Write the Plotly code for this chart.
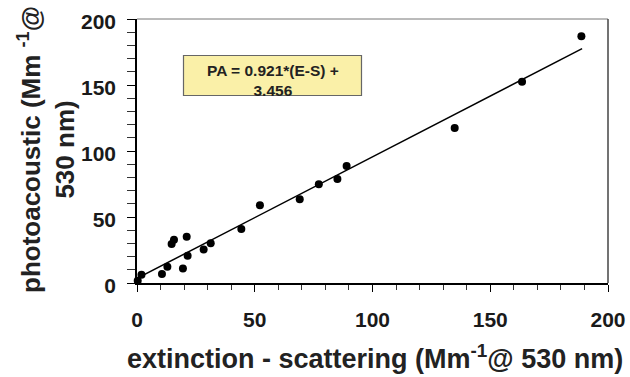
import plotly.graph_objects as go

# ---- data ----
ext_minus_scat = [0.3, 1.9, 10.6, 12.9, 19.5, 14.7, 15.7, 21.1, 21.5, 28.3,
                  31.3, 44.3, 52.2, 69.1, 77.2, 85.1, 89.0, 134.9, 163.5, 188.7]
photoacoustic = [1.7, 6.3, 6.8, 12.3, 11.0, 29.5, 32.7, 35.0, 20.6, 25.4,
                 30.2, 41.0, 58.9, 63.5, 74.8, 78.8, 88.7, 117.4, 152.4, 186.9]
fit_x = [0, 189]
fit_y = [3.5, 177.5]
x_ticks = [0, 50, 100, 150, 200]
y_ticks = [0, 50, 100, 150, 200]
fit_label = "PA = 0.921*(E-S) +<br>3.456"
x_title = "extinction - scattering (Mm<sup>-1</sup>@ 530 nm)"
y_title = "photoacoustic (Mm <sup>-1</sup>@<br>530 nm)"

W, H = 630, 377
L, R, T, B = 137, 22, 19, 94
PW, PH = W - L - R, H - T - B


def pxx(px):
    return (px - L) / PW


def pxy(py):
    return (H - B - py) / PH


FONT = "Liberation Sans, Arial, sans-serif"

fig = go.Figure()
fig.add_trace(go.Scatter(x=fit_x, y=fit_y, mode="lines",
                         line=dict(color="black", width=1.5),
                         hoverinfo="skip", showlegend=False))
fig.add_trace(go.Scatter(x=ext_minus_scat, y=photoacoustic, mode="markers",
                         marker=dict(color="black", size=8),
                         cliponaxis=False, showlegend=False))

fig.update_layout(
    width=W, height=H,
    margin=dict(l=L, r=R, t=T, b=B, pad=0, autoexpand=False),
    paper_bgcolor="white", plot_bgcolor="white",
    font=dict(family=FONT, color="black"),
    xaxis=dict(range=[0, 200], tickvals=x_ticks, ticks="outside", ticklen=7,
               tickwidth=1.2, tickcolor="black", automargin=False,
               minor=dict(dtick=10, ticks="outside", ticklen=5, tickwidth=1,
                          tickcolor="#333"),
               showline=True, linewidth=2, linecolor="black",
               showgrid=False, zeroline=False,
               tickfont=dict(size=21, family=FONT, weight="bold", color="#1a1a1a"),
               ticklabelstandoff=10),
    yaxis=dict(range=[0, 200], tickvals=y_ticks, ticks="outside", ticklen=8,
               tickwidth=1.2, tickcolor="black", automargin=False,
               minor=dict(dtick=10, ticks="outside", ticklen=8, tickwidth=1,
                          tickcolor="#333"),
               showline=True, linewidth=1.5, linecolor="black",
               showgrid=False, zeroline=False,
               tickfont=dict(size=21, family=FONT, weight="bold", color="#1a1a1a"),
               ticklabelstandoff=7, ticklabelshift=3),
)

# frame (top / right)
fig.add_shape(type="line", xref="paper", yref="paper", x0=0, x1=1, y0=1, y1=1,
              line=dict(color="#777", width=1))
fig.add_shape(type="line", xref="paper", yref="paper", x0=1, x1=1, y0=0, y1=1,
              line=dict(color="#444", width=1.5))

# equation box
fig.add_shape(type="rect", xref="paper", yref="paper",
              x0=pxx(183.5), x1=pxx(361.5), y0=pxy(95.5), y1=pxy(55.5),
              fillcolor="#FAF0A8", line=dict(color="#666", width=1.2))
fig.add_annotation(text=fit_label, xref="paper", yref="paper",
                   x=pxx(272.5), y=pxy(80), xanchor="center", yanchor="middle",
                   showarrow=False,
                   font=dict(size=15.5, family=FONT, weight="bold", color="#222"))

# axis titles
fig.add_annotation(text=x_title, xref="paper", yref="paper",
                   x=pxx(375), y=pxy(357), xanchor="center", yanchor="middle",
                   showarrow=False,
                   font=dict(size=27, family=FONT, weight="bold", color="#222"))
fig.add_annotation(text=y_title, xref="paper", yref="paper",
                   x=pxx(46), y=pxy(150), xanchor="center", yanchor="middle",
                   textangle=-90, showarrow=False,
                   font=dict(size=26, family=FONT, weight="bold", color="#222"))

fig.write_html("out.html")
